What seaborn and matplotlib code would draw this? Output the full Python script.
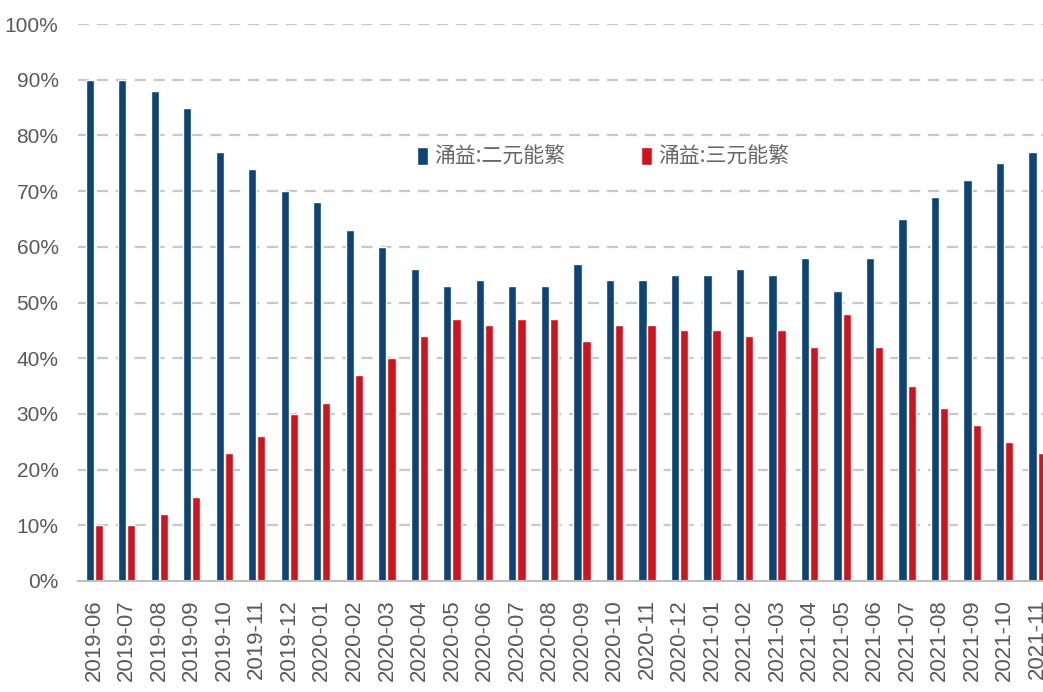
import matplotlib
matplotlib.use("Agg")
import matplotlib.pyplot as plt
from matplotlib import font_manager
from matplotlib.patches import Patch
import seaborn as sns
import pandas as pd
import numpy as np

months = ["2019-06", "2019-07", "2019-08", "2019-09", "2019-10", "2019-11", "2019-12",
          "2020-01", "2020-02", "2020-03", "2020-04", "2020-05", "2020-06", "2020-07",
          "2020-08", "2020-09", "2020-10", "2020-11", "2020-12", "2021-01", "2021-02",
          "2021-03", "2021-04", "2021-05", "2021-06", "2021-07", "2021-08", "2021-09",
          "2021-10", "2021-11"]
binary = [90, 90, 88, 85, 77, 74, 70, 68, 63, 60, 56, 53, 54, 53, 53, 57, 54, 54, 55,
          55, 56, 55, 58, 52, 58, 65, 69, 72, 75, 77]
ternary = [10, 10, 12, 15, 23, 26, 30, 32, 37, 40, 44, 47, 46, 47, 47, 43, 46, 46, 45,
           45, 44, 45, 42, 48, 42, 35, 31, 28, 25, 23]
series_names = ["涌益:二元能繁", "涌益:三元能繁"]
yticks = [0, 10, 20, 30, 40, 50, 60, 70, 80, 90, 100]

df = pd.DataFrame({
    "month": months * 2,
    "value": binary + ternary,
    "series": [series_names[0]] * len(months) + [series_names[1]] * len(months),
})

sns.set_theme(style="white")
installed = {f.name for f in font_manager.fontManager.ttflist}
num_font = "Liberation Sans Narrow" if "Liberation Sans Narrow" in installed else "Liberation Sans"
plt.rcParams["font.family"] = [num_font, "Noto Sans CJK SC", "DejaVu Sans"]

blue = "#0B4479"
red = "#D5121C"
gray_text = "#595959"

fig = plt.figure(figsize=(10.43, 6.92), dpi=100)
ax = fig.add_axes([78 / 1043, 1 - 581 / 692, 1 - 78 / 1043, (581 - 24) / 692])

sns.barplot(data=df, x="month", y="value", hue="series", order=months,
            hue_order=series_names, palette=[blue, red], width=0.56, gap=0.1,
            ax=ax, legend=False, saturation=1)

ax.set_yticks(yticks)
ax.set_yticklabels([f"{v}%" for v in yticks], fontsize=15, color=gray_text)
ax.set_xticks(range(len(months)))
ax.set_xticklabels(months, rotation=90, fontsize=16, color=gray_text,
                   family=["Liberation Sans", "DejaVu Sans"])
ax.tick_params(axis="x", which="major", length=0, pad=13)
ax.tick_params(axis="y", length=0, pad=14)
ax.set_xticks(np.arange(-0.5, len(months) - 1, 1), minor=True)
ax.tick_params(axis="x", which="minor", length=6, color="#BFBFBF", width=1.2)
ax.set_xlabel("")
ax.set_ylabel("")
ax.set_ylim(0, 100)
ax.set_xlim(-0.5, len(months) - 1 + 0.18)

for v in yticks[1:]:
    ax.axhline(v, color="#C8C8C8", linestyle=(0, (5, 3.5)), linewidth=1.6, zorder=0)

for s in ["top", "right", "left"]:
    ax.spines[s].set_visible(False)
ax.spines["bottom"].set_color("#BFBFBF")
ax.spines["bottom"].set_linewidth(1.5)
ax.set_axisbelow(True)

handles = [Patch(facecolor=blue), Patch(facecolor=red)]
leg = ax.legend(handles, series_names, loc="center", bbox_to_anchor=(603 / 1043, 1 - 157 / 692),
                bbox_transform=fig.transFigure, ncol=2, frameon=False,
                handlelength=0.55, handleheight=1.0, handletextpad=0.3, columnspacing=3.6,
                prop={"family": ["Noto Sans CJK SC", "DejaVu Sans"], "size": 15})
for t in leg.get_texts():
    t.set_color("#666666")

fig.savefig("out.png", dpi=100)
